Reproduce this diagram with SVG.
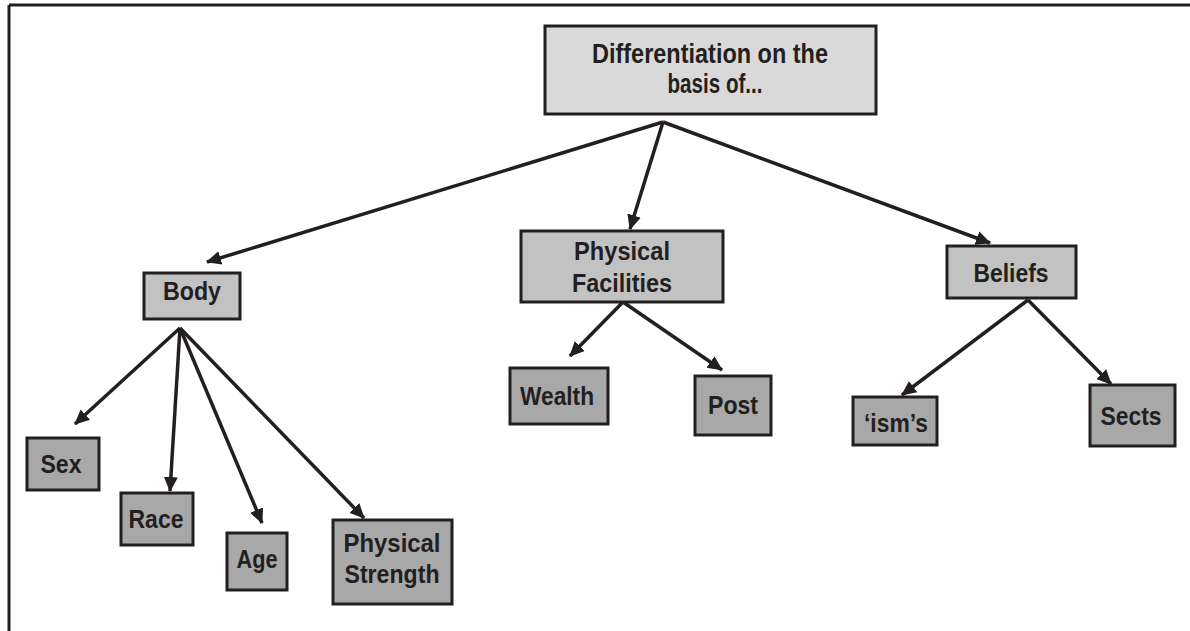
<svg xmlns="http://www.w3.org/2000/svg" width="1190" height="631" viewBox="0 0 1190 631">
<style>
.box{stroke:#231f20;stroke-width:3}
.l1{fill:#d9d9d9}
.l2{fill:#c2c2c2}
.l3{fill:#a8a8a8}
text{font-family:"Liberation Sans","Arial",sans-serif;font-weight:bold;fill:#231f20;text-anchor:middle}
.t{font-size:27px}
.s{font-size:25px}
.edge{stroke:#231f20;stroke-width:3.5;fill:none;marker-end:url(#ah)}
</style>
<defs>
<marker id="ah" markerUnits="userSpaceOnUse" markerWidth="16" markerHeight="16" refX="14" refY="8" orient="auto">
<path d="M0,1 L15,8 L0,15 Z" fill="#231f20"/>
</marker>
</defs>
<rect width="1190" height="631" fill="#fff"/>
<g id="frame" stroke="#231f20" stroke-width="3" fill="none">
<line x1="9" y1="5" x2="1190" y2="5"/>
<line x1="9" y1="5" x2="9" y2="631"/>
</g>
<g id="connectors">
<line class="edge" x1="663" y1="122" x2="207" y2="262"/>
<line class="edge" x1="663" y1="122" x2="630" y2="229"/>
<line class="edge" x1="663" y1="122" x2="990" y2="243"/>
<line class="edge" x1="180" y1="328" x2="75" y2="424"/>
<line class="edge" x1="180" y1="328" x2="170" y2="491"/>
<line class="edge" x1="180" y1="328" x2="262" y2="523"/>
<line class="edge" x1="180" y1="328" x2="364" y2="518"/>
<line class="edge" x1="623" y1="302" x2="570" y2="356"/>
<line class="edge" x1="623" y1="302" x2="722" y2="370"/>
<line class="edge" x1="1028" y1="300" x2="902" y2="395"/>
<line class="edge" x1="1028" y1="300" x2="1111" y2="384"/>
</g>
<g id="n-root">
<rect class="box l1" x="545" y="26" width="331" height="88"/>
<text class="t" x="710" y="63" textLength="236" lengthAdjust="spacingAndGlyphs">Differentiation on the</text>
<text class="t" x="715" y="93" textLength="95" lengthAdjust="spacingAndGlyphs">basis of...</text>
</g>
<g id="n-body">
<rect class="box l2" x="144" y="273" width="96" height="46"/>
<text class="s" x="192" y="300" textLength="58" lengthAdjust="spacingAndGlyphs">Body</text>
</g>
<g id="n-pf">
<rect class="box l2" x="521" y="231" width="202" height="71"/>
<text class="s" x="622" y="260" textLength="96" lengthAdjust="spacingAndGlyphs">Physical</text>
<text class="s" x="622" y="292" textLength="100" lengthAdjust="spacingAndGlyphs">Facilities</text>
</g>
<g id="n-beliefs">
<rect class="box l2" x="947" y="246" width="129" height="52"/>
<text class="s" x="1011" y="282" textLength="75" lengthAdjust="spacingAndGlyphs">Beliefs</text>
</g>
<g id="n-sex">
<rect class="box l3" x="27" y="438" width="72" height="52"/>
<text class="s" x="61" y="473" textLength="41" lengthAdjust="spacingAndGlyphs">Sex</text>
</g>
<g id="n-race">
<rect class="box l3" x="121" y="493" width="72" height="52"/>
<text class="s" x="156" y="528" textLength="55" lengthAdjust="spacingAndGlyphs">Race</text>
</g>
<g id="n-age">
<rect class="box l3" x="227" y="533" width="60" height="57"/>
<text class="s" x="257" y="568" textLength="41" lengthAdjust="spacingAndGlyphs">Age</text>
</g>
<g id="n-ps">
<rect class="box l3" x="333" y="520" width="119" height="84"/>
<text class="s" x="392" y="552" textLength="97" lengthAdjust="spacingAndGlyphs">Physical</text>
<text class="s" x="392" y="583" textLength="95" lengthAdjust="spacingAndGlyphs">Strength</text>
</g>
<g id="n-wealth">
<rect class="box l3" x="510" y="368" width="98" height="56"/>
<text class="s" x="557" y="405" textLength="74" lengthAdjust="spacingAndGlyphs">Wealth</text>
</g>
<g id="n-post">
<rect class="box l3" x="695" y="376" width="76" height="59"/>
<text class="s" x="733" y="414" textLength="50" lengthAdjust="spacingAndGlyphs">Post</text>
</g>
<g id="n-isms">
<rect class="box l3" x="853" y="397" width="84" height="48"/>
<text class="s" x="896" y="432" textLength="64" lengthAdjust="spacingAndGlyphs">‘ism’s</text>
</g>
<g id="n-sects">
<rect class="box l3" x="1090" y="385" width="85" height="61"/>
<text class="s" x="1131" y="425" textLength="61" lengthAdjust="spacingAndGlyphs">Sects</text>
</g>
</svg>
